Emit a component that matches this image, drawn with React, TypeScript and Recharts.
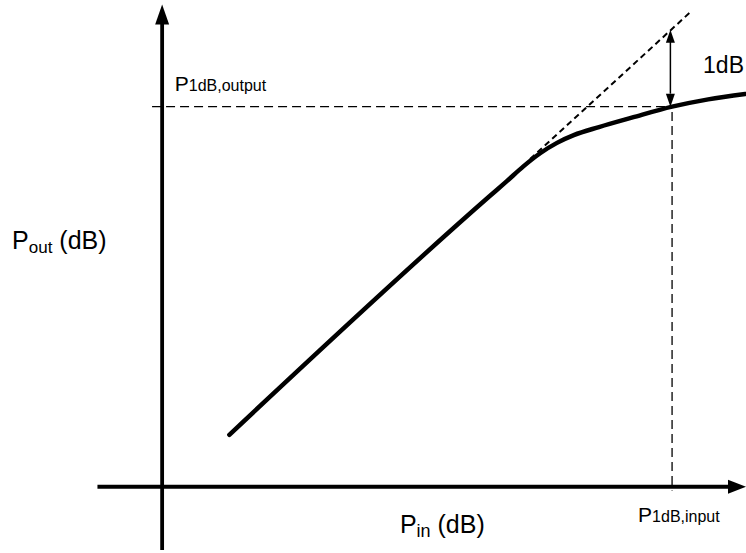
import { LineChart, Line, XAxis, YAxis, ReferenceLine, ReferenceDot } from "recharts"

// Amplifier transfer curve, input / output power in dB (schematic units)
const pinCurve = [0.8, 3.9, 4.1, 4.3, 4.5, 4.7, 4.9, 5.2, 5.6, 6.07, 6.5, 6.94]
const poutCurve = [0.675, 3.775, 3.965, 4.16, 4.33, 4.465, 4.565, 4.67, 4.795, 4.935, 5.03, 5.1]

// ideal linear gain carried on past the knee
const pinLinear = [4.38, 6.3]
const poutLinear = [4.255, 6.175]

// 1 dB compression point
const p1dbInput = 6.07
const p1dbOutput = 4.935
const compression = 1

const labelInput = "1dB,input"
const labelOutput = "1dB,output"
const labelCompression = "1dB"

const curveData = pinCurve.map((pin, i) => ({ pin, pout: poutCurve[i] }))
const linearData = pinLinear.map((pin, i) => ({ pin, pout: poutLinear[i] }))

const FONT = "'Liberation Sans', Arial, Helvetica, sans-serif"

// line with a filled arrowhead at the end point (and optionally the start)
const arrowShape = (head: number, half: number, both = false) => (props: any) => {
  const { x1, y1, x2, y2, stroke, strokeWidth } = props
  const a = Math.atan2(y2 - y1, x2 - x1)
  const c = Math.cos(a)
  const s = Math.sin(a)
  const tri = (tx: number, ty: number, dir: number) => {
    const bx = tx - dir * head * c
    const by = ty - dir * head * s
    return `${tx},${ty} ${bx - half * s},${by + half * c} ${bx + half * s},${by - half * c}`
  }
  const sx = both ? x1 + head * c : x1
  const sy = both ? y1 + head * s : y1
  return (
    <g>
      <line x1={sx} y1={sy} x2={x2 - head * c * 0.8} y2={y2 - head * s * 0.8} stroke={stroke} strokeWidth={strokeWidth} />
      <polygon points={tri(x2, y2, 1)} fill={stroke} />
      {both && <polygon points={tri(x1, y1, -1)} fill={stroke} />}
    </g>
  )
}

// "P" followed by a smaller subscript, with an optional tail
const subLabel = (sub: string, size: number, subSize: number, drop: number, tail = "", dx = 0, dy = 0) => (props: any) => (
  <text x={props.cx + dx} y={props.cy + dy} fontFamily={FONT} fontSize={size} fill="#000" style={{ whiteSpace: "pre" }}>
    <tspan>P</tspan>
    <tspan fontSize={subSize} dy={drop}>{sub}</tspan>
    {tail && <tspan dy={-drop}>{tail}</tspan>}
  </text>
)

export default function App() {
  return (
    <div style={{ position: "absolute", left: 0, top: 0, background: "#fff" }}>
      <LineChart width={746} height={553} margin={{ top: 0, right: 0, left: 0, bottom: 0 }}>
        <XAxis type="number" dataKey="pin" domain={[-1.93, 6.95]} hide allowDataOverflow />
        <YAxis type="number" dataKey="pout" domain={[-0.86, 6.32]} hide allowDataOverflow />

        {/* axes */}
        <ReferenceLine
          segment={[{ x: -0.77, y: 0 }, { x: 6.95, y: 0 }]}
          stroke="#000"
          strokeWidth={3.8}
          ifOverflow="visible"
          shape={arrowShape(18, 7)}
        />
        <ReferenceLine
          segment={[{ x: 0, y: -0.82 }, { x: 0, y: 6.26 }]}
          stroke="#000"
          strokeWidth={3.8}
          ifOverflow="visible"
          shape={arrowShape(20, 7)}
        />

        {/* guides to the compression point */}
        <ReferenceLine
          segment={[{ x: -0.12, y: p1dbOutput }, { x: p1dbInput, y: p1dbOutput }]}
          stroke="#000"
          strokeWidth={1.3}
          strokeDasharray="9 5"
          ifOverflow="visible"
        />
        <ReferenceLine
          segment={[{ x: p1dbInput, y: p1dbOutput - 0.07 }, { x: p1dbInput, y: -0.05 }]}
          stroke="#000"
          strokeWidth={1.3}
          strokeDasharray="9 5"
          ifOverflow="visible"
        />
        <ReferenceLine
          segment={[{ x: p1dbInput - 0.02, y: p1dbOutput }, { x: p1dbInput - 0.02, y: p1dbOutput + compression }]}
          stroke="#000"
          strokeWidth={1.5}
          ifOverflow="visible"
          shape={arrowShape(13, 4.5, true)}
        />

        <Line
          data={linearData}
          dataKey="pout"
          type="linear"
          stroke="#000"
          strokeWidth={2}
          strokeDasharray="6 4"
          dot={false}
          activeDot={false}
          isAnimationActive={false}
        />
        <Line
          data={curveData}
          dataKey="pout"
          type="monotone"
          stroke="#000"
          strokeWidth={4.5}
          strokeLinecap="round"
          dot={false}
          activeDot={false}
          isAnimationActive={false}
        />

        {/* labels */}
        <ReferenceDot x={0.15} y={p1dbOutput} r={1} ifOverflow="visible" shape={subLabel(labelOutput, 21, 16, 0, "", 0, -16)} />
        <ReferenceDot x={p1dbInput} y={0} r={1} ifOverflow="visible" shape={subLabel(labelInput, 21, 16, 0, "", -34, 35)} />
        <ReferenceDot
          x={p1dbInput}
          y={p1dbOutput + compression / 2}
          r={1}
          ifOverflow="visible"
          shape={(p: any) => (
            <text x={p.cx + 31} y={p.cy + 5} fontFamily={FONT} fontSize={23} fill="#000">
              {labelCompression}
            </text>
          )}
        />
        <ReferenceDot x={-1.786} y={3.09} r={1} ifOverflow="visible" shape={subLabel("out", 25, 17, 4, " (dB)")} />
        <ReferenceDot x={2.83} y={-0.6} r={1} ifOverflow="visible" shape={subLabel("in", 25, 18, 4, " (dB)")} />
      </LineChart>
    </div>
  )
}
